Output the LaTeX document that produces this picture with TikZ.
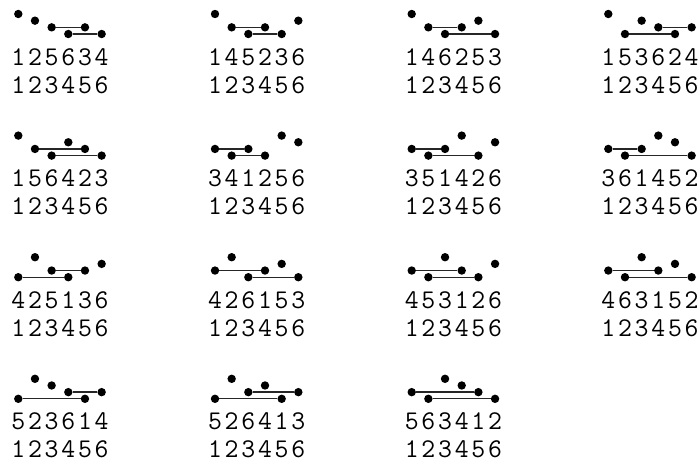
\documentclass[tikz,border=0pt]{standalone}
\usepackage{fontspec}
\usepackage{tikz}
\usetikzlibrary{positioning}

\def\cw{16.67}
\def\lv{6.67}
\tikzset{
  dot/.style={circle,fill=black,inner sep=0pt,minimum size=8.4pt},
  link/.style={line width=1.3pt,black!85},
  digit/.style={anchor=base,inner sep=0pt,font=\fontsize{27}{27}\selectfont\ttfamily}
}
% #1 name, #2 x of first dot, #3 y of top level, #4 top row, #5 levels, #6 pairs
\newcommand{\perm}[6]{%
  \foreach \l [count=\i from 0] in {#5}
    \node[dot] (#1-d\i) at ({#2+\i*\cw},{#3+\l*\lv}) {};
  \foreach \a/\b in {#6}
    \draw[link] (#1-d\a) -- (#1-d\b);
  \foreach \d [count=\i from 0] in {#4}
    \node[digit] (#1-t\i) at ({#2+\i*\cw},{#3+51}) {\d};
  \foreach \d [count=\i from 0] in {1,2,3,4,5,6}
    \node[digit] (#1-b\i) at ({#2+\i*\cw},{#3+79}) {\d};
}

\begin{document}
\begin{tikzpicture}[x=1pt,y=-1pt]
\useasboundingbox (0,0) rectangle (700,463);
% row 1
\perm{p1}{18.3}{14}{1,2,5,6,3,4}{0,1,2,3,2,3}{2/4,3/5}
\perm{p2}{215}{14}{1,4,5,2,3,6}{0,2,3,2,3,1}{1/3,2/4}
\perm{p3}{411.7}{14}{1,4,6,2,5,3}{0,2,3,2,1,3}{1/3,2/5}
\perm{p4}{608.3}{14}{1,5,3,6,2,4}{0,3,1,2,3,2}{3/5,1/4}
% row 2
\perm{p5}{18.3}{135.6}{1,5,6,4,2,3}{0,2,3,1,2,3}{1/4,2/5}
\perm{p6}{215}{135.6}{3,4,1,2,5,6}{2,3,2,3,0,1}{0/2,1/3}
\perm{p7}{411.7}{135.6}{3,5,1,4,2,6}{2,3,2,0,3,1}{0/2,1/4}
\perm{p8}{608.3}{135.6}{3,6,1,4,5,2}{2,3,2,0,1,3}{0/2,1/5}
% row 3
\perm{p9}{18.3}{257.2}{4,2,5,1,3,6}{3,0,2,3,2,1}{2/4,0/3}
\perm{p10}{215}{257.2}{4,2,6,1,5,3}{2,0,3,2,1,3}{0/3,2/5}
\perm{p11}{411.7}{257.2}{4,5,3,1,2,6}{2,3,0,2,3,1}{0/3,1/4}
\perm{p12}{608.3}{257.2}{4,6,3,1,5,2}{2,3,0,2,1,3}{0/3,1/5}
% row 4
\perm{p13}{18.3}{378.8}{5,2,3,6,1,4}{3,0,1,2,3,2}{3/5,0/4}
\perm{p14}{215}{378.8}{5,2,6,4,1,3}{3,0,2,1,3,2}{2/5,0/4}
\perm{p15}{411.7}{378.8}{5,6,3,4,1,2}{2,3,0,1,2,3}{0/4,1/5}
\end{tikzpicture}
\end{document}
